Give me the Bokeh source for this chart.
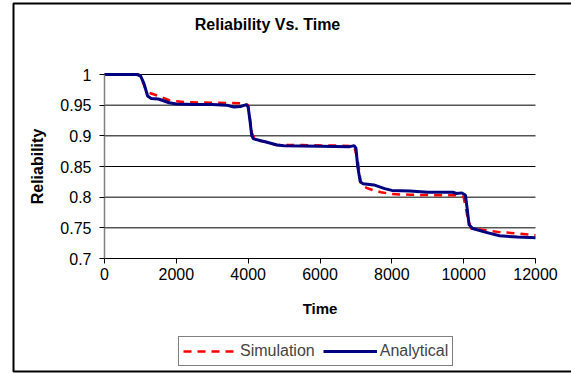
from bokeh.plotting import figure
from bokeh.models import Range1d, FixedTicker, Legend, LegendItem, Label, BoxAnnotation
from bokeh.embed import file_html
from bokeh.resources import INLINE

# ---- data ----
analytical_t = [0, 900, 1000, 1100, 1200, 1300, 1500, 1800, 2000, 2500, 3000, 3400, 3600,
                3800, 3950, 4000, 4050, 4100, 4150, 4500, 4800, 5000, 6000, 6800, 6950,
                7000, 7050, 7120, 7200, 7500, 7800, 8000, 8500, 9000, 9700, 9800, 9950,
                10050, 10100, 10150, 10250, 10600, 11000, 11500, 12000]
analytical_r = [1.0, 1.0, 0.998, 0.985, 0.965, 0.961, 0.960, 0.954, 0.952, 0.951, 0.951, 0.950, 0.947,
                0.948, 0.951, 0.947, 0.925, 0.900, 0.895, 0.890, 0.885, 0.884, 0.883, 0.882, 0.884,
                0.880, 0.850, 0.825, 0.822, 0.820, 0.814, 0.811, 0.810, 0.808, 0.808, 0.806, 0.807,
                0.803, 0.780, 0.755, 0.749, 0.743, 0.737, 0.735, 0.734]

simulation_t = [0, 950, 1050, 1150, 1250, 1500, 1800, 2200, 3000, 3900, 4000, 4100, 4200,
                4500, 4800, 5500, 6500, 6950, 7050, 7150, 7300, 7500, 7700, 8000, 8500,
                9500, 9900, 10000, 10100, 10200, 10500, 11000, 11500, 12000]
simulation_r = [1.0, 1.0, 0.99, 0.975, 0.970, 0.965, 0.958, 0.955, 0.954, 0.953, 0.950, 0.905, 0.893,
                0.890, 0.885, 0.885, 0.884, 0.883, 0.860, 0.819, 0.815, 0.811, 0.808, 0.805, 0.804,
                0.803, 0.803, 0.800, 0.770, 0.749, 0.747, 0.743, 0.741, 0.738]

x_ticks = [0, 2000, 4000, 6000, 8000, 10000, 12000]
y_ticks = [0.7, 0.75, 0.8, 0.85, 0.9, 0.95, 1.0]
y_tick_labels = {0.7: "0.7", 0.75: "0.75", 0.8: "0.8", 0.85: "0.85", 0.9: "0.9", 0.95: "0.95", 1.0: "1"}
x_min, x_max = 0, 12000
y_min, y_max = 0.7, 1.0

FONT = "Liberation Sans"
W, H = 571, 373
# plot area placement in pixels (left, right, top, bottom)
PL, PR, PT, PB = 104, 535, 74, 258

# the frame covers the whole canvas; ranges are widened so the data area sits at PL..PR, PT..PB
sx = (x_max - x_min) / (PR - PL)
sy = (y_max - y_min) / (PB - PT)
xr = Range1d(x_min - PL * sx, x_max + (W - PR) * sx)
yr = Range1d(y_min - (H - PB) * sy, y_max + PT * sy)


def px_x(px):
    return x_min + (px - PL) * sx


def px_y(py):
    return y_max - (py - PT) * sy


p = figure(width=W, height=H, output_backend="svg", toolbar_location=None,
           x_range=xr, y_range=yr, min_border=0, title=None)
p.outline_line_color = None
p.background_fill_color = "white"
p.border_fill_color = "white"

# grid: horizontal lines at the y ticks, limited to the data area
p.xgrid.grid_line_color = None
p.ygrid.grid_line_color = None
p.segment(x0=[x_min] * len(y_ticks), y0=y_ticks, x1=[x_max] * len(y_ticks), y1=y_ticks,
          line_color="black", line_width=1)

# axes drawn at the edges of the data area
p.xaxis.fixed_location = y_min
p.yaxis.fixed_location = x_min
p.xaxis.bounds = (x_min, x_max)
p.yaxis.bounds = (y_min, y_max)
p.xaxis.ticker = FixedTicker(ticks=x_ticks)
p.yaxis.ticker = FixedTicker(ticks=y_ticks)
p.yaxis.major_label_overrides = y_tick_labels
for ax in (p.xaxis, p.yaxis):
    ax.major_tick_in = 0
    ax.major_tick_out = 5
    ax.minor_tick_line_color = None
    ax.major_label_text_font = FONT
    ax.major_label_text_font_size = "16px"
    ax.major_label_text_color = "black"
    ax.axis_label_text_font = FONT
    ax.axis_label_text_font_style = "bold"
    ax.axis_label_text_color = "black"
p.xaxis.axis_label_text_font_size = "15px"
p.yaxis.axis_label_text_font_size = "16px"
p.xaxis.axis_line_color = "black"
p.xaxis.major_tick_line_color = "black"
p.yaxis.axis_line_color = "#808080"
p.yaxis.axis_line_width = 1.5
p.yaxis.major_tick_line_color = "black"
p.xaxis.axis_label = "Time"
p.yaxis.axis_label = "Reliability"
p.xaxis.axis_label_standoff = 17
p.yaxis.axis_label_standoff = 11
p.xaxis.major_label_standoff = 4
p.yaxis.major_label_standoff = 8

r_sim = p.line(simulation_t, simulation_r, line_color="#FF0000", line_width=2.5, line_dash="8 6")
r_ana = p.line(analytical_t, analytical_r, line_color="#000080", line_width=3)

# title
p.add_layout(Label(x=px_x(267), y=px_y(24), text="Reliability Vs. Time", text_align="center",
                   text_baseline="middle", text_font=FONT, text_font_size="16px",
                   text_font_style="bold", text_color="black"))

legend = Legend(items=[LegendItem(label="Simulation", renderers=[r_sim]),
                       LegendItem(label="Analytical", renderers=[r_ana])],
                orientation="horizontal", location=(178, H - 366))
legend.label_text_font = FONT
legend.label_text_font_size = "16px"
legend.glyph_width = 54
legend.label_standoff = 3
legend.spacing = 8
legend.padding = 4
legend.margin = 0
legend.border_line_color = "black"
legend.border_line_width = 1
legend.background_fill_alpha = 1
p.add_layout(legend, "center")

# outer chart border
p.add_layout(BoxAnnotation(left=px_x(13), right=px_x(W + 20), top=px_y(3), bottom=px_y(371),
                           fill_alpha=0, line_color="black", line_alpha=1, line_width=2))

open("out.html", "w").write(file_html(p, INLINE))
